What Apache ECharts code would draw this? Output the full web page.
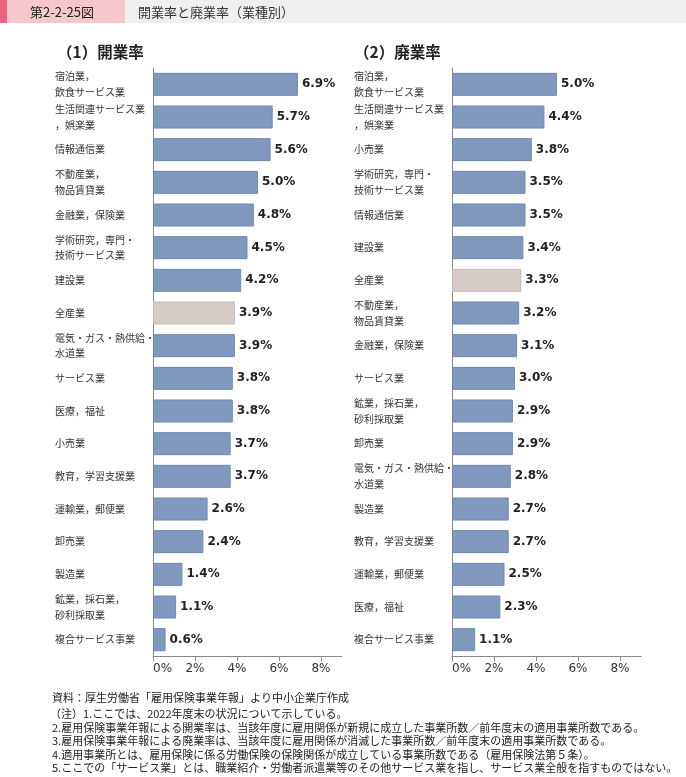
<!DOCTYPE html>
<html>
<head>
<meta charset="utf-8">
<script src="https://cdn.jsdelivr.net/npm/echarts@6/dist/echarts.min.js"></script>
<style>
  html, body { margin: 0; padding: 0; background: #fff; }
  #main { width: 686px; height: 777px; }
</style>
</head>
<body>
<div id="main"></div>
<script>
// （1）開業率
var openCategories = [
  '宿泊業，\n飲食サービス業', '生活関連サービス業\n，娯楽業', '情報通信業', '不動産業，\n物品賃貸業',
  '金融業，保険業', '学術研究，専門・\n技術サービス業', '建設業', '全産業',
  '電気・ガス・熱供給・\n水道業', 'サービス業', '医療，福祉', '小売業',
  '教育，学習支援業', '運輸業，郵便業', '卸売業', '製造業',
  '鉱業，採石業，\n砂利採取業', '複合サービス事業'
];
var openValues = [6.9, 5.7, 5.6, 5.0, 4.8, 4.5, 4.2, 3.9, 3.9, 3.8, 3.8, 3.7, 3.7, 2.6, 2.4, 1.4, 1.1, 0.6];

// （2）廃業率
var closeCategories = [
  '宿泊業，\n飲食サービス業', '生活関連サービス業\n，娯楽業', '小売業', '学術研究，専門・\n技術サービス業',
  '情報通信業', '建設業', '全産業', '不動産業，\n物品賃貸業',
  '金融業，保険業', 'サービス業', '鉱業，採石業，\n砂利採取業', '卸売業',
  '電気・ガス・熱供給・\n水道業', '製造業', '教育，学習支援業', '運輸業，郵便業',
  '医療，福祉', '複合サービス事業'
];
var closeValues = [5.0, 4.4, 3.8, 3.5, 3.5, 3.4, 3.3, 3.2, 3.1, 3.0, 2.9, 2.9, 2.8, 2.7, 2.7, 2.5, 2.3, 1.1];

var tickValues = [0, 2, 4, 6, 8];

var notes = [
  '資料：厚生労働省「雇用保険事業年報」より中小企業庁作成',
  '（注）1.ここでは、2022年度末の状況について示している。',
  '2.雇用保険事業年報による開業率は、当該年度に雇用関係が新規に成立した事業所数／前年度末の適用事業所数である。',
  '3.雇用保険事業年報による廃業率は、当該年度に雇用関係が消滅した事業所数／前年度末の適用事業所数である。',
  '4.適用事業所とは、雇用保険に係る労働保険の保険関係が成立している事業所数である（雇用保険法第５条）。',
  '5.ここでの「サービス業」とは、職業紹介・労働者派遣業等のその他サービス業を指し、サービス業全般を指すものではない。'
];
var noteY = [698, 714, 727.5, 741, 754.5, 768];

var JP = '"Noto Sans CJK JP", "Noto Sans", sans-serif';

function barData(cats, vals) {
  return vals.map(function (v, i) {
    var total = cats[i] === '全産業';
    return {
      value: v,
      itemStyle: {
        color: total ? '#d5ccc8' : '#8299bf',
        borderColor: total ? '#c4bab6' : '#6f87b0',
        borderWidth: 1
      }
    };
  });
}

function xAxisFor(idx) {
  return {
    gridIndex: idx,
    type: 'value',
    min: 0,
    max: 9,
    interval: 1,
    splitLine: { show: false },
    axisLine: { show: true, lineStyle: { color: '#888', width: 1 } },
    axisTick: { show: true, length: 5, customValues: tickValues, lineStyle: { color: '#888' } },
    axisLabel: {
      customValues: tickValues,
      margin: 7,
      alignMinLabel: 'left',
      fontFamily: 'DejaVu Sans',
      fontSize: 12,
      color: '#333',
      formatter: function (v) { return v + '%'; }
    }
  };
}

function yAxisFor(idx, cats) {
  return {
    gridIndex: idx,
    type: 'category',
    inverse: true,
    data: cats,
    axisLine: { show: true, lineStyle: { color: '#888', width: 1 } },
    axisTick: { show: false },
    axisLabel: {
      align: 'left',
      margin: 98,
      width: 130,
      overflow: 'none',
      hideOverlap: false,
      fontFamily: JP,
      fontSize: 10,
      lineHeight: 15.6,
      color: '#333'
    }
  };
}

function seriesFor(idx, cats, vals) {
  return {
    type: 'bar',
    xAxisIndex: idx,
    yAxisIndex: idx,
    barWidth: 23,
    data: barData(cats, vals),
    label: {
      show: true,
      position: 'right',
      distance: 4,
      fontFamily: 'DejaVu Sans',
      fontWeight: 'bold',
      fontSize: 12,
      color: '#222',
      formatter: function (p) { return p.value.toFixed(1) + '%'; }
    },
    emphasis: { disabled: true }
  };
}

var chart = echarts.init(document.getElementById('main'), null, { renderer: 'canvas' });

var noteTexts = notes.map(function (t, i) {
  return {
    type: 'text',
    x: 52 + (i === 1 ? -2 : 0),
    y: noteY[i],
    style: { text: t, fontFamily: JP, fontSize: 11, fill: '#222', verticalAlign: 'middle' }
  };
});

var option = {
  animation: false,
  backgroundColor: '#fff',
  grid: [
    { left: 153, top: 68, width: 189, height: 588 },
    { left: 452, top: 68, width: 189, height: 588 }
  ],
  xAxis: [xAxisFor(0), xAxisFor(1)],
  yAxis: [yAxisFor(0, openCategories), yAxisFor(1, closeCategories)],
  series: [
    seriesFor(0, openCategories, openValues),
    seriesFor(1, closeCategories, closeValues)
  ],
  graphic: [
    { type: 'rect', shape: { x: 0, y: 0, width: 686, height: 23 }, style: { fill: '#efefef' } },
    { type: 'rect', shape: { x: 0, y: 0, width: 125, height: 23 }, style: { fill: '#f6c8ce' } },
    { type: 'rect', shape: { x: 0, y: 0, width: 7, height: 23 }, style: { fill: '#e9647f' } },
    { type: 'text', x: 30, y: 12, style: { text: '第2-2-25図', fontFamily: JP, fontSize: 13, fill: '#222', verticalAlign: 'middle' } },
    { type: 'text', x: 138, y: 12, style: { text: '開業率と廃業率（業種別）', fontFamily: JP, fontSize: 13, fill: '#333', verticalAlign: 'middle' } },
    { type: 'text', x: 57, y: 52, style: { text: '（1）開業率', fontFamily: JP, fontSize: 15.5, fontWeight: 'bold', fill: '#222', verticalAlign: 'middle' } },
    { type: 'text', x: 354, y: 52, style: { text: '（2）廃業率', fontFamily: JP, fontSize: 15.5, fontWeight: 'bold', fill: '#222', verticalAlign: 'middle' } }
  ].concat(noteTexts)
};

chart.setOption(option);
</script>
</body>
</html>
